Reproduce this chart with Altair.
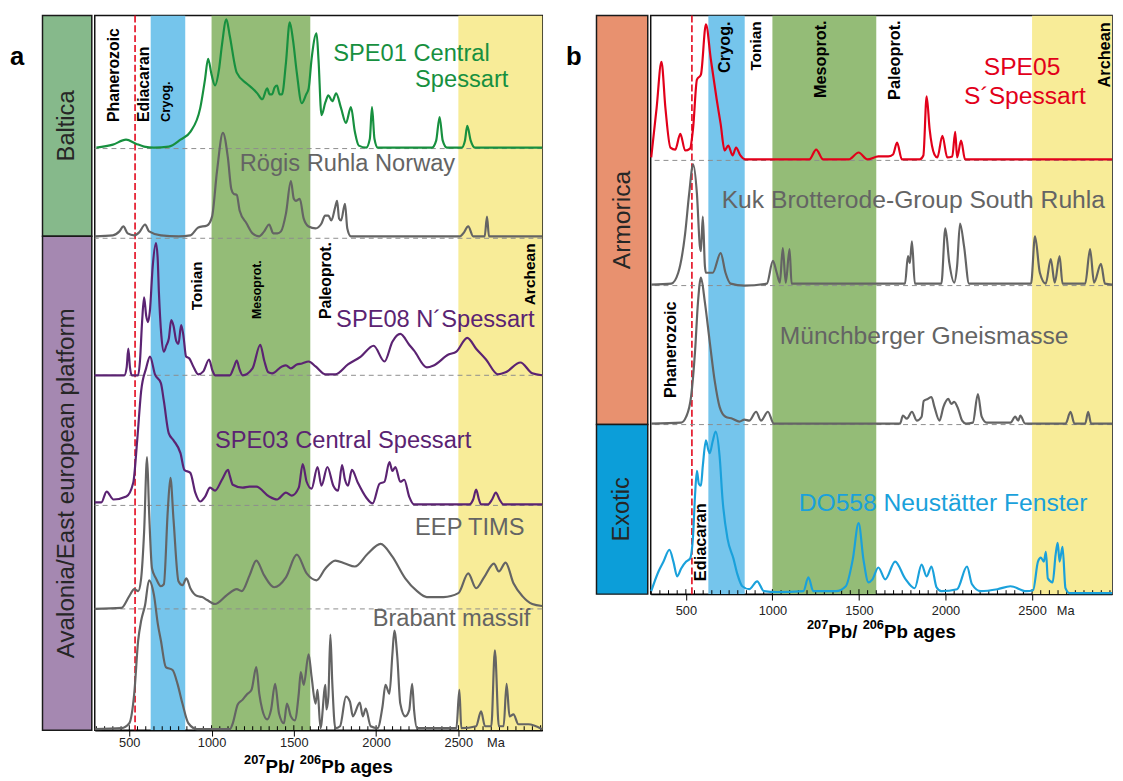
import altair as alt
import pandas as pd

FONT = "Liberation Sans"

# ---------------- panel a : density curves (age in Ma, curve height) ----------------
spe01_age = [300, 400, 480, 540, 590, 650, 740, 811, 871, 931, 960, 979, 1000, 1021, 1045, 1063, 1090, 1110, 1153, 1213,
             1249, 1278, 1308, 1338, 1353, 1368, 1383, 1398, 1413, 1428, 1452, 1475, 1495, 1518, 1548, 1575, 1590, 1608,
             1638, 1650, 1668, 1692, 1710, 1734, 1757, 1787, 1817, 1847, 1871, 1895, 1940, 1962, 1975, 1990, 2010, 2340,
             2365, 2386, 2405, 2430, 2520, 2540, 2554, 2575, 2600, 3009]
spe01_h = [1, 4, 9, 5, 2, 1, 2, 9, 17, 41, 70, 91, 75, 64, 80, 105, 131, 115, 77, 66,
           61, 56, 50, 61, 55, 55, 62, 64, 55, 55, 87, 128, 110, 77, 46, 55, 61, 91,
           117, 90, 34, 47, 54, 48, 56, 41, 26, 42, 17, 3, 1, 10, 42, 10, 1, 1,
           8, 32, 8, 1, 1, 8, 23, 8, 1, 1]

rogis_age = [290, 400, 440, 464, 490, 530, 560, 596, 620, 692, 800, 871, 919, 973, 1003, 1033, 1069, 1099, 1120, 1135,
             1153, 1171, 1213, 1249, 1290, 1320, 1350, 1375, 1400, 1422, 1452, 1482, 1500, 1512, 1536, 1560, 1590, 1632,
             1668, 1690, 1710, 1728, 1752, 1763, 1775, 1787, 1811, 1825, 1847, 2510, 2530, 2560, 2590, 2660, 2674, 2686,
             3009]
rogis_h = [2, 3, 7, 12, 5, 3, 6, 14, 7, 3, 2, 3, 11, 13, 22, 68, 107, 82, 50, 45,
           44, 28, 15, 5, 2, 7, 14, 5, 5, 7, 25, 58, 40, 38, 40, 20, 12, 10,
           15, 23, 23, 18, 32, 38, 20, 18, 35, 10, 2, 2, 5, 12, 2, 2, 22, 2,
           2]

spe08_age = [290, 470, 484, 494, 504, 515, 554, 565, 578, 590, 603, 614, 625, 642, 662, 672, 680, 695, 710, 725,
             740, 755, 769, 785, 799, 815, 829, 845, 865, 889, 919, 950, 985, 1005, 1021, 1111, 1135, 1153, 1170, 1189,
             1249, 1296, 1320, 1345, 1368, 1428, 1452, 1482, 1518, 1550, 1590, 1632, 1692, 1752, 1829, 1907, 1985, 2051,
             2099, 2147, 2201, 2231, 2308, 2350, 2440, 2488, 2554, 2608, 2668, 2740, 2787, 2877, 2949, 3009]
spe08_h = [0, 0, 8, 27, 8, 0, 0, 15, 55, 79, 60, 54, 65, 110, 134, 120, 84, 40, 24, 30,
           37, 56, 50, 35, 32, 51, 40, 19, 17, 9, 1, 4, 16, 5, 0, 0, 8, 15, 6, 0,
           7, 31, 15, 3, 2, 9, 10, 7, 11, 12, 14, 9, 1, 1, 11, 19, 30, 14,
           34, 42, 31, 25, 8, 10, 21, 24, 38, 27, 16, 1, 3, 13, 2, 0]

spe03_age = [290, 330, 362, 404, 482, 524, 548, 572, 602, 626, 656, 692, 710, 740, 769, 811, 835, 871, 901, 931,
             961, 991, 1021, 1063, 1100, 1111, 1129, 1189, 1230, 1272, 1350, 1398, 1452, 1488, 1530, 1554, 1578, 1608,
             1644, 1668, 1704, 1740, 1769, 1793, 1811, 1829, 1853, 1889, 1940, 1979, 2021, 2051, 2081, 2099, 2117, 2147,
             2171, 2201, 2231, 2566, 2590, 2608, 2625, 2638, 2680, 2705, 2728, 2750, 2775, 3009]
spe03_h = [3, 3, 14, 6, 9, 23, 66, 116, 139, 151, 133, 124, 106, 73, 66, 53, 36, 33, 13, 4,
           9, 18, 15, 26, 36, 30, 21, 18, 19, 19, 9, 6, 13, 10, 18, 42, 24, 17,
           39, 20, 39, 20, 15, 41, 26, 20, 36, 23, 8, 2, 22, 24, 44, 35, 39, 24,
           26, 9, 1, 1, 6, 16, 6, 1, 1, 6, 13, 6, 1, 1]

eep_age = [290, 452, 500, 530, 554, 572, 590, 608, 620, 638, 662, 692, 710, 734, 750, 769, 799, 823, 847, 871,
           913, 943, 973, 1021, 1093, 1153, 1183, 1231, 1272, 1320, 1380, 1452, 1518, 1578, 1638, 1692, 1752, 1811,
           1871, 1949, 2027, 2099, 2177, 2249, 2308, 2410, 2500, 2560, 2608, 2656, 2716, 2746, 2787, 2835, 2889, 2949,
           3009]
eep_h = [0, 1, 13, 20, 18, 31, 78, 154, 100, 41, 31, 23, 25, 100, 133, 90, 28, 24, 31, 21,
         13, 12, 9, 5, 14, 20, 18, 34, 49, 34, 22, 32, 55, 36, 29, 41, 49, 46,
         43, 56, 66, 53, 31, 18, 12, 12, 16, 36, 21, 32, 46, 38, 47, 26, 13, 5,
         3]

brabant_age = [290, 452, 500, 530, 554, 572, 596, 620, 650, 674, 692, 722, 763, 793, 823, 859, 913, 1111, 1129, 1159,
               1189, 1213, 1243, 1272, 1290, 1308, 1338, 1362, 1386, 1410, 1440, 1458, 1482, 1506, 1530, 1542, 1560,
               1590, 1608, 1632, 1644, 1662, 1692, 1698, 1710, 1722, 1734, 1752, 1781, 1817, 1841, 1859, 1901, 1919,
               1937, 1967, 2009, 2039, 2057, 2081, 2099, 2111, 2129, 2147, 2177, 2201, 2219, 2231, 2249, 2488, 2506,
               2518, 2608, 2638, 2662, 2700, 2722, 2746, 2775, 2793, 2811, 2835, 2865, 2925, 3009]
brabant_h = [1, 2, 7, 37, 91, 111, 127, 152, 137, 107, 91, 64, 61, 47, 27, 7, 1, 1, 7, 26,
             31, 36, 41, 64, 37, 21, 11, 21, 47, 17, 7, 27, 14, 10, 37, 59, 46,
             77, 54, 27, 41, 2, 46, 21, 34, 97, 47, 2, 4, 34, 29, 14, 28, 14,
             22, 4, 2, 24, 46, 37, 77, 101, 74, 27, 14, 20, 47, 20, 2, 2, 41,
             2, 4, 19, 4, 4, 81, 4, 4, 47, 14, 16, 6, 6, 1]

# ---------------- panel b : density curves ----------------
spe05_age = [300, 331, 359, 382, 411, 439, 468, 496, 524, 542, 564, 587, 616, 644, 678, 701, 724, 745, 770, 790,
             815, 843, 1213, 1253, 1293, 1441, 1498, 1549, 1612, 1669, 1697, 1720, 1748, 1851, 1872, 1891, 1908, 1936,
             1953, 1982, 2010, 2039, 2056, 2067, 2090, 2113, 2962]
spe05_h = [3, 53, 100, 53, 13, 11, 27, 10, 12, 33, 82, 87, 138, 103, 62, 37, 10, 15, 5, 13,
           5, 1, 1, 11, 1, 1, 8, 1, 4, 4, 6, 18, 1, 1, 5, 65, 32, 6,
           3, 25, 3, 4, 29, 3, 20, 1, 1]

kuk_age = [300, 416, 456, 496, 519, 542, 564, 581, 587, 598, 610, 616, 655, 701, 729, 758, 838, 968, 1003, 1025,
           1043, 1060, 1077, 1099, 1111, 1766, 1783, 1794, 1806, 1823, 1976, 1999, 2022, 2050, 2067, 2084, 2107, 2136,
           2494, 2517, 2545, 2579, 2608, 2631, 2659, 2676, 2807, 2835, 2858, 2898, 2921, 2962]
kuk_h = [1, 2, 13, 53, 93, 123, 93, 40, 35, 70, 20, 13, 13, 33, 13, 2, 0, 2, 25, 13,
         3, 38, 3, 37, 2, 2, 30, 23, 45, 2, 2, 58, 23, 3, 20, 63, 40, 2,
         2, 50, 13, 2, 27, 3, 30, 2, 2, 37, 3, 22, 2, 1]

munch_age = [300, 473, 502, 530, 553, 570, 587, 610, 638, 667, 695, 729, 769, 809, 838, 866, 906, 934, 974, 1008,
             1737, 1754, 1777, 1806, 1834, 1862, 1874, 1897, 1919, 1936, 1965, 1988, 2016, 2033, 2050, 2073, 2096, 2118,
             2158, 2187, 2209, 2238, 2375, 2403, 2420, 2432, 2460, 2694, 2722, 2745, 2807, 2824, 2841, 2962]
munch_h = [1, 2, 8, 28, 74, 124, 149, 124, 84, 44, 18, 8, 6, 3, 5, 4, 13, 4, 13, 1,
           1, 9, 6, 13, 4, 8, 24, 26, 28, 18, 4, 18, 26, 21, 23, 16, 4, 1,
           2, 31, 8, 2, 2, 8, 4, 9, 1, 1, 13, 1, 1, 13, 1, 1]

do558_age = [300, 342, 371, 405, 428, 450, 473, 502, 524, 542, 553, 564, 575, 587, 598, 616, 630, 638, 655, 672,
             695, 712, 741, 775, 798, 826, 866, 912, 951, 1025, 1179, 1208, 1236, 1367, 1424, 1464, 1498, 1526, 1555,
             1578, 1612, 1652, 1709, 1766, 1822, 1862, 1891, 1919, 1948, 1976, 2067, 2124, 2153, 2204, 2300, 2375,
             2466, 2506, 2534, 2551, 2568, 2580, 2591, 2619, 2636, 2648, 2659, 2676, 2693, 2716, 2962]
do558_h = [3, 23, 33, 45, 33, 18, 26, 33, 36, 60, 100, 125, 112, 110, 130, 156, 146, 143, 155, 165,
           140, 96, 56, 36, 20, 8, 5, 13, 3, 2, 3, 17, 3, 3, 8, 35, 72, 35, 12,
           15, 27, 15, 33, 16, 6, 30, 18, 28, 7, 3, 5, 28, 10, 3, 5, 8,
           3, 4, 33, 37, 33, 43, 16, 12, 40, 52, 33, 48, 6, 1, 1]

# ---------------- series, baselines, colours ----------------
GREEN, PURPLE, GRAY, RED, CYAN = "#17903f", "#5b2372", "#646464", "#e2001a", "#1aa1db"

a_names = ["SPE01", "Rogis", "SPE08", "SPE03", "EEP", "Brabant"]
a_base = [590, 499, 360, 228, 123, 0]
a_cols = [GREEN, GRAY, PURPLE, PURPLE, GRAY, GRAY]
a_ages = [spe01_age, rogis_age, spe08_age, spe03_age, eep_age, brabant_age]
a_hs = [spe01_h, rogis_h, spe08_h, spe03_h, eep_h, brabant_h]

b_names = ["SPE05", "Kuk", "Munch", "DO558"]
b_base = [440, 313, 172, 0]
b_cols = [RED, GRAY, GRAY, CYAN]
b_ages = [spe05_age, kuk_age, munch_age, do558_age]
b_hs = [spe05_h, kuk_h, munch_h, do558_h]

# series labels
a_lab_text = ["SPE01 Central", "Spessart", "Rögis Ruhla Norway", "SPE08 N´Spessart", "SPE03 Central Spessart",
              "EEP TIMS", "Brabant massif"]
a_lab_age = [1740, 2237, 1171, 1757, 1021, 2237, 1979]
a_lab_y = [686, 659, 574, 416, 293, 205, 113]
a_lab_col = [GREEN, GREEN, GRAY, PURPLE, PURPLE, GRAY, GRAY]

b_lab_text = ["SPE05", "S´Spessart", "Kuk Brotterode-Group South Ruhla", "Münchberger Gneismasse",
              "DO558 Neustätter Fenster"]
b_lab_age = [2221, 2107, 707, 1042, 1152]
b_lab_y = [535, 505, 400, 262, 92]
b_lab_col = [RED, RED, GRAY, GRAY, CYAN]

# geological time bands
band_start = [630, 1000, 2500]
band_end = [840, 1600, 3200]
band_col = ["#75c5ec", "#94bc77", "#f8ec98"]
ediacaran_line = 535

# period labels (rotated)
a_per_text = ["Phanerozoic", "Ediacaran", "Cryog.", "Tonian", "Mesoprot.", "Paleoprot.", "Archean"]
a_per_age = [410, 590, 721, 913, 1278, 1698, 2937]
a_per_y = [617, 617, 617, 426, 417, 417, 431]
a_per_fs = [16, 16, 13, 15.5, 12.5, 16, 15.7]

b_per_text = ["Phanerozoic", "Ediacaran", "Cryog.", "Tonian", "Mesoprot.", "Paleoprot.", "Archean"]
b_per_age = [416, 587, 724, 906, 1282, 1709, 2921]
b_per_y = [297, 92, 581, 581, 582, 582, 580]
b_per_fs = [16.5, 16.5, 16.5, 15.6, 16.5, 16.5, 16.5]

# region boxes
a_reg_text = ["Baltica", "Avalonia/East european platform"]
a_reg_y0 = [501, 0]
a_reg_y1 = [725, 501]
a_reg_col = ["#86b98b", "#a588b1"]
a_reg_fs = [24, 24.5]

b_reg_text = ["Armorica", "Exotic"]
b_reg_y0 = [172, 0]
b_reg_y1 = [587, 172]
b_reg_col = ["#e8916f", "#0c9ed9"]
b_reg_fs = [25, 24]

# x axis ticks
major_ticks = [500, 1000, 1500, 2000, 2500]
minor_ticks_a = list(range(300, 3001, 50))
minor_ticks_b = list(range(300, 2951, 50))

# axis title pieces (superscript mass numbers)
title_parts = ["207", "Pb/", "206", "Pb ages"]
title_sizes = [13, 19, 13, 19]
title_sup = [True, False, True, False]

for ages, hs in zip(a_ages + b_ages, a_hs + b_hs):
    assert len(ages) == len(hs)


def curve_frame(names, bases, cols, ages, hs):
    rows = []
    for n, b, c, ag, hh in zip(names, bases, cols, ages, hs):
        for a, h in zip(ag, hh):
            rows.append({"series": n, "col": c, "s": a, "h": h, "base": b})
    df = pd.DataFrame(rows)
    df["y"] = df["base"] + df["h"]
    return df


def title_frame(width, height, base_off):
    # approximate advance widths of Liberation Sans Bold
    widths = [3 * 0.556 * 13, 1.556 * 19 + 0.278 * 19, 3 * 0.556 * 13, 3.835 * 19]
    total = sum(widths)
    xs, x = [], width / 2 - total / 2
    for w in widths:
        xs.append(x)
        x += w
    ys = [height + base_off - (9 if s else 0) for s in title_sup]
    return pd.DataFrame({"t": title_parts, "px": xs, "py": ys, "fs": title_sizes})


def plot_panel(names, bases, cols, ages, hs, lab_text, lab_age, lab_y, lab_col, lab_fs,
               per_text, per_age, per_y, per_fs, per_align, minor_ticks,
               xdom, width, height, ma_age, lab_pad, title_off):
    xs = alt.Scale(domain=xdom, nice=False, zero=False)
    ys = alt.Scale(domain=[0, height], nice=False, zero=False)
    axis = alt.Axis(values=major_ticks, labelExpr="'' + datum.value", tickSize=6, tickWidth=1,
                    tickColor="black", domainColor="black", domainWidth=1.5, labelFont=FONT,
                    labelFontSize=13, labelColor="#222", labelPadding=lab_pad, labelOverlap=False,
                    labelFlush=False, grid=False, title="")
    xenc = lambda f: alt.X(f, scale=xs, axis=axis)
    yenc = lambda f: alt.Y(f, scale=ys, axis=None)

    bands = alt.Chart(pd.DataFrame({"s": band_start, "e": band_end, "c": band_col})).mark_rect(clip=True).encode(
        x=xenc("s:Q"), x2="e:Q", color=alt.Color("c:N", scale=None))

    red = alt.Chart(pd.DataFrame({"s": [ediacaran_line]})).mark_rule(
        color="#e3061b", strokeDash=[7, 3], strokeWidth=1.6).encode(x=xenc("s:Q"))

    base_df = pd.DataFrame({"b": [b for b in bases if b > 0]})
    dashed = alt.Chart(base_df).mark_rule(color="#8c8c8c", strokeDash=[5, 4], strokeWidth=1).encode(
        y=yenc("b:Q"))

    tk = pd.DataFrame({"s": minor_ticks, "y0": [0] * len(minor_ticks),
                       "y1": [5 if t % 500 == 0 else 4 for t in minor_ticks]})
    ticks = alt.Chart(tk).mark_rule(color="black", strokeWidth=1).encode(
        x=xenc("s:Q"), y=yenc("y0:Q"), y2="y1:Q")

    per = alt.Chart(pd.DataFrame({"t": per_text, "s": per_age, "y": per_y, "fs": per_fs})).mark_text(
        angle=270, align=per_align, baseline="middle", fontWeight="bold", font=FONT, color="black").encode(
        x=xenc("s:Q"), y=yenc("y:Q"), text="t:N", size=alt.Size("fs:Q", scale=None))

    cdf = curve_frame(names, bases, cols, ages, hs)
    lines = alt.Chart(cdf).mark_line(interpolate="monotone", strokeWidth=2.2, strokeJoin="round").encode(
        x=xenc("s:Q"), y=yenc("y:Q"), color=alt.Color("col:N", scale=None),
        detail="series:N", order="s:Q")

    labels = alt.Chart(pd.DataFrame({"t": lab_text, "s": lab_age, "y": lab_y, "c": lab_col})).mark_text(
        align="left", baseline="middle", font=FONT, fontSize=lab_fs).encode(
        x=xenc("s:Q"), y=yenc("y:Q"), text="t:N", color=alt.Color("c:N", scale=None))

    ma = alt.Chart(pd.DataFrame({"s": [ma_age], "t": ["Ma"]})).mark_text(
        font=FONT, fontSize=13, color="#222", baseline="top").encode(
        x=xenc("s:Q"), y=alt.value(height + 6 + lab_pad), text="t:N")

    ttl = alt.Chart(title_frame(width, height, title_off)).mark_text(
        align="left", baseline="alphabetic", font=FONT, fontWeight="bold", color="black").encode(
        x=alt.X("px:Q", scale=None, axis=None), y=alt.Y("py:Q", scale=None, axis=None),
        text="t:N", size=alt.Size("fs:Q", scale=None))

    return alt.layer(bands, red, dashed, ticks, per, lines, labels, ma, ttl).properties(
        width=width, height=height, view=alt.ViewBackground(stroke="#111", strokeWidth=1.5))


def region_col(texts, y0, y1, cols, fss, height, width, letter, letter_dx):
    ys = alt.Scale(domain=[0, height], nice=False, zero=False)
    df = pd.DataFrame({"t": texts, "y0": y0, "y1": y1, "c": cols, "fs": fss})
    df["m"] = (df["y0"] + df["y1"]) / 2
    boxes = alt.Chart(df).mark_rect(stroke="#1a1a1a", strokeWidth=1.5).encode(
        y=alt.Y("y0:Q", scale=ys, axis=None), y2="y1:Q", color=alt.Color("c:N", scale=None))
    txt = alt.Chart(df).mark_text(angle=270, align="center", baseline="middle", font=FONT,
                                  color="#262626").encode(
        y=alt.Y("m:Q", scale=ys, axis=None), x=alt.value(width / 2), text="t:N",
        size=alt.Size("fs:Q", scale=None))
    let = alt.Chart(pd.DataFrame({"t": [letter]})).mark_text(
        align="left", baseline="middle", font=FONT, fontSize=26, fontWeight="bold", color="black").encode(
        x=alt.value(letter_dx), y=alt.value(42), text="t:N")
    return alt.layer(boxes, txt, let).properties(width=width, height=height)


HA, HB = 725, 587
panel_a = alt.hconcat(
    region_col(a_reg_text, a_reg_y0, a_reg_y1, a_reg_col, a_reg_fs, HA, 50, "a", -33),
    plot_panel(a_names, a_base, a_cols, a_ages, a_hs, a_lab_text, a_lab_age, a_lab_y, a_lab_col, 24,
               a_per_text, a_per_age, a_per_y, a_per_fs, "left", minor_ticks_a,
               [290, 3010], 454, HA, 2728, 1, 43),
    spacing=0)
panel_b = alt.hconcat(
    region_col(b_reg_text, b_reg_y0, b_reg_y1, b_reg_col, b_reg_fs, HB, 52, "b", -31),
    plot_panel(b_names, b_base, b_cols, b_ages, b_hs, b_lab_text, b_lab_age, b_lab_y, b_lab_col, 25,
               b_per_text, b_per_age, b_per_y, b_per_fs, "right", minor_ticks_b,
               [297, 2962], 468, HB, 2694, 5, 44),
    spacing=0)

chart = alt.hconcat(panel_a, panel_b, spacing=22).properties(
    padding={"left": 2, "top": 0, "right": 0, "bottom": 0}, background="white"
).configure_view(strokeWidth=0)

chart.save("out.html", embed_options={"renderer": "svg", "actions": False})
